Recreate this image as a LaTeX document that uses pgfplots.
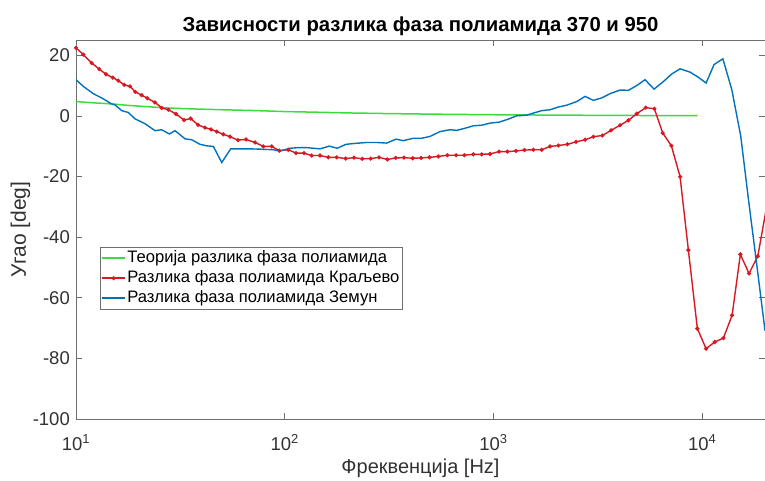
\documentclass[border=0pt]{standalone}
\usepackage{fontspec}
\setmainfont{Liberation Sans}
\usepackage{pgfplots}
\pgfplotsset{compat=1.18}
\definecolor{axgray}{RGB}{110,110,110}
\definecolor{labgray}{RGB}{50,50,50}
\definecolor{mgreen}{RGB}{60,220,60}
\definecolor{mred}{RGB}{215,25,35}
\definecolor{mblue}{RGB}{0,114,189}

\begin{document}
\begin{tikzpicture}[font=\fontsize{18.5}{21}\selectfont]
\begin{axis}[
  name=ax,
  scale only axis,
  width=689pt, height=379pt,
  xmode=log, log basis x=10,
  xmin=10, xmax=20000, ymin=-100, ymax=25,
  xtick={10,100,1000,10000},
  xticklabels={10\textsuperscript{1},10\textsuperscript{2},10\textsuperscript{3},10\textsuperscript{4}},
  ytick={-100,-80,-60,-40,-20,0,20},
  yticklabels={-100,-80,-60,-40,-20,0,20},
  tick align=inside,
  major tick length=6pt, minor tick length=3.5pt,
  axis line style={draw=axgray, line width=0.6pt},
  every tick/.style={axgray, line width=0.5pt},
  ticklabel style={text=labgray},
  xticklabel style={anchor=base, yshift=-31pt},
  yticklabel style={anchor=east, inner sep=0pt, xshift=-6pt},
  title={Зависности разлика фаза полиамида 370 и 950},
  title style={at={(axis description cs:0.5,1.0055)}, anchor=base,
    font=\bfseries\fontsize{20.3}{24}\selectfont},
  xlabel={Фреквенција [Hz]},
  xlabel style={at={(axis description cs:0.5,-0.1425)}, anchor=base, text=labgray,
    font=\fontsize{20}{24}\selectfont},
  ylabel={Угао [deg]},
  ylabel style={at={(axis description cs:-0.0726,0.5)}, anchor=base, text=labgray,
    font=\fontsize{21}{24}\selectfont},
  legend style={at={(axis description cs:0.035,0.454)}, anchor=north west,
    draw=axgray, line width=0.5pt, font=\fontsize{16.6}{19}\selectfont,
    inner sep=1pt,
    nodes={inner sep=1.5pt, text height=12.5pt, text depth=4.5pt}},
  legend cell align=left,
  legend image code/.code={
    \draw[#1, mark=none] (0pt,0pt) -- (23pt,0pt);
    \path[#1] plot coordinates {(11.5pt,0pt)};},
]
\addplot[mgreen, line width=1.5pt] coordinates {
  (10,4.7)(12,4.3)(15,3.9)(18,3.4)(20,3.2)(27,2.6)(35,2.3)(50,2.0)(70,1.75)
  (100,1.4)(150,1.15)(200,0.95)(300,0.75)(500,0.55)(1000,0.35)(2000,0.22)
  (5000,0.1)(9500,0.05)
};
\addlegendentry{Теорија разлика фаза полиамида}
\addplot[mred, line width=1.4pt, mark=*, mark size=1.3pt] coordinates {
  (10,22.4)(10.84,20.2)(11.89,17.4)(12.93,15.4)(13.92,13.7)(14.99,12.6)
  (15.95,11.6)(17.03,10.2)(18.14,9.7)(19.24,7.9)(20.64,6.8)(21.96,5.8)
  (23.90,4.4)(25.74,2.6)(27.69,2.0)(30.14,0.6)(32.93,-1.4)(35.44,-0.9)
  (38.42,-3.0)(41.51,-3.9)(44.36,-4.5)(47.23,-5.2)(50.79,-6.1)(54.70,-6.9)
  (59.73,-8.0)(65.27,-7.8)(72.07,-8.8)(78.98,-10.1)(86.64,-10.1)(94.2,-11.5)
  (104.0,-11.2)(113.3,-12.3)(123.7,-12.3)(134.7,-13.1)(147.6,-13.1)
  (161.8,-13.7)(177.5,-13.7)(196.0,-14.1)(214.8,-13.8)(235.4,-14.2)
  (258.3,-14.1)(283.0,-13.7)(310.1,-14.4)(340.3,-13.9)(372.9,-13.8)
  (410.6,-14.0)(449.9,-13.9)(493.2,-13.7)(544.5,-13.4)(601.3,-13.0)
  (662.1,-13.0)(725.4,-13.0)(801.0,-12.7)(878.9,-12.7)(962.9,-12.6)
  (1063,-11.8)(1166,-11.8)(1283,-11.6)(1407,-11.3)(1553,-11.2)(1703,-11.2)
  (1867,-10.1)(2046,-9.8)(2260,-9.4)(2488,-8.6)(2748,-7.9)(3011,-6.9)
  (3325,-6.5)(3661,-4.8)(4043,-3.1)(4431,-1.5)(4861,0.7)(5369,2.7)
  (5902,2.3)(6475,-5.7)(7119,-9.9)(7838,-20.1)(8588,-44.3)(9484,-70.2)
  (10440,-76.8)(11490,-74.6)(12640,-73.3)(13910,-65.8)(15240,-45.7)
  (16770,-52)(18470,-46.3)(20240,-31)
};
\addlegendentry{Разлика фаза полиамида Краљево}
\addplot[mblue, line width=1.4pt] coordinates {
  (10,11.9)(10.84,9.7)(12.10,7.3)(13.28,5.9)(14.83,3.9)(15.38,3.6)
  (16.56,1.7)(17.81,1.1)(19.18,-1.0)(21.41,-2.6)(23.90,-4.9)(25.74,-4.6)
  (28.00,-6.0)(29.81,-4.9)(33.30,-7.6)(35.84,-7.9)(39.28,-9.4)(42.29,-9.9)
  (45.50,-10.1)(49.90,-15.4)(55.12,-10.9)(68.20,-10.9)(76.15,-11.0)
  (88.20,-11.2)(94.95,-11.6)(106.0,-10.7)(116.2,-10.5)(127.5,-10.5)
  (147.6,-10.9)(163.6,-10.0)(178.6,-10.7)(196.7,-9.4)(217.3,-9.1)
  (247.2,-8.8)(275.9,-8.8)(308.1,-9.0)(341.5,-7.7)(370.1,-8.2)(413.3,-7.4)
  (453.4,-7.4)(496.9,-6.8)(554.7,-5.2)(619.4,-4.6)(667.1,-4.8)(730.9,-4.1)
  (801.0,-3.3)(878.9,-3.1)(962.9,-2.4)(1063,-2.1)(1179,-1.1)(1293,0)
  (1444,0.2)(1553,0.9)(1703,1.7)(1867,2.0)(2046,2.9)(2245,3.5)(2507,4.7)
  (2748,6.4)(3011,5.1)(3303,5.9)(3620,7.3)(4043,8.5)(4431,8.4)(4861,10.0)
  (5326,11.9)(5882,8.8)(6520,11.3)(7152,13.8)(7838,15.5)(8750,14.4)
  (9590,12.7)(10440,10.8)(11400,16.9)(12560,18.8)(13870,8.6)(15310,-6.8)
  (16690,-28)(18330,-50)(20010,-71)
};
\addlegendentry{Разлика фаза полиамида Земун}
\end{axis}
\pgfresetboundingbox
\path ([xshift=-76pt,yshift=-61pt]ax.south west) rectangle ([yshift=40pt]ax.north east);
\end{tikzpicture}
\end{document}
